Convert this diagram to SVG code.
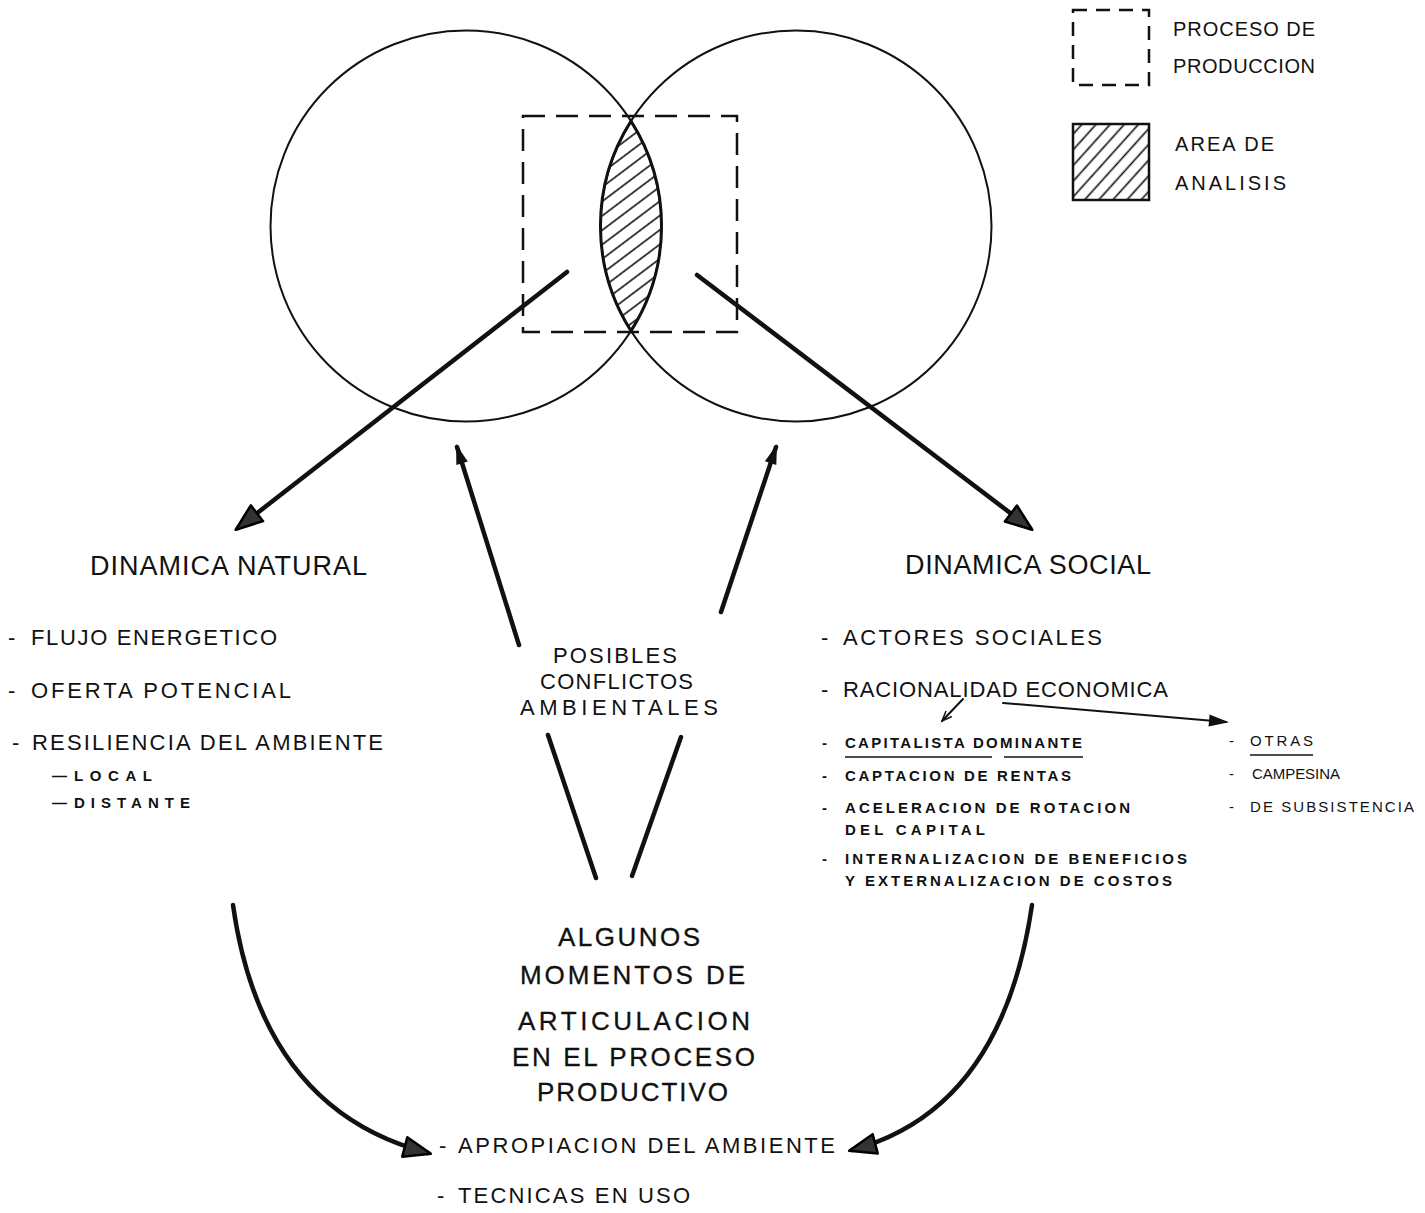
<svg xmlns="http://www.w3.org/2000/svg" width="1425" height="1213" viewBox="0 0 1425 1213">
<style>
.t{font-family:"Liberation Sans",Arial,sans-serif;fill:#111}
.m{font-size:22px}
.h{font-size:27px}
.b{font-size:26px;stroke:#111;stroke-width:0.3}
.s{font-size:15px;font-weight:bold}
.r{font-size:15px}
.c{fill:none;stroke:#111;stroke-width:2}
.dash{fill:none;stroke:#111;stroke-width:2.5;stroke-dasharray:22 11}
.arr{fill:none;stroke:#111;stroke-width:4.5;stroke-linecap:round}
.thin{fill:none;stroke:#111;stroke-width:2;stroke-linecap:round}
</style>
<defs>
<pattern id="hatch" patternUnits="userSpaceOnUse" width="20" height="11.5" patternTransform="rotate(-37)">
<line x1="0" y1="5.75" x2="20" y2="5.75" stroke="#111" stroke-width="1.6"/>
</pattern>
<pattern id="hatch2" patternUnits="userSpaceOnUse" width="20" height="10.5" patternTransform="rotate(-48)">
<line x1="0" y1="5.25" x2="20" y2="5.25" stroke="#111" stroke-width="1.6"/>
</pattern>
<marker id="big" markerUnits="userSpaceOnUse" markerWidth="32" markerHeight="26" refX="26" refY="12" orient="auto">
<path d="M2,2 L29,12 L2,22 z" fill="#333" stroke="#000" stroke-width="2.5" stroke-linejoin="round"/>
</marker>
<marker id="mid" markerUnits="userSpaceOnUse" markerWidth="24" markerHeight="16" refX="18" refY="7" orient="auto">
<path d="M1,1 L21,7 L1,13 z" fill="#111"/>
</marker>
<marker id="tiny" markerUnits="userSpaceOnUse" markerWidth="14" markerHeight="12" refX="11" refY="5" orient="auto">
<path d="M1,1 L11,5 L1,9" fill="none" stroke="#111" stroke-width="1.5"/>
</marker>
</defs>

<g id="circle-natural"><circle class="c" cx="466" cy="226" r="195.5"/></g>
<g id="circle-social"><circle class="c" cx="796" cy="226" r="195.5"/></g>
<g id="area-analisis">
<path d="M631,121.1 A195.5,195.5 0 0 0 631,330.9 A195.5,195.5 0 0 0 631,121.1 z" fill="url(#hatch)" stroke="#111" stroke-width="3"/>
</g>
<g id="proceso-produccion"><rect class="dash" x="523" y="116" width="214" height="216"/></g>

<g id="legend">
<rect x="1073" y="10" width="76" height="75" fill="none" stroke="#111" stroke-width="2.5" stroke-dasharray="14 9"/>
<text class="t" x="1173" y="36" font-size="20" textLength="142" lengthAdjust="spacing">PROCESO DE</text>
<text class="t" x="1173" y="73" font-size="20" textLength="142" lengthAdjust="spacing">PRODUCCION</text>
<rect x="1073" y="124" width="76" height="76" fill="url(#hatch2)" stroke="#111" stroke-width="2.5"/>
<text class="t" x="1175" y="151" font-size="20" textLength="99" lengthAdjust="spacing">AREA DE</text>
<text class="t" x="1175" y="190" font-size="20" textLength="111" lengthAdjust="spacing">ANALISIS</text>
</g>

<g id="connectors">
<line class="arr" x1="567" y1="272" x2="238" y2="528" marker-end="url(#big)"/>
<line class="arr" x1="697" y1="275" x2="1030" y2="528" marker-end="url(#big)"/>
<line class="arr" x1="519" y1="645" x2="457" y2="447" marker-end="url(#mid)"/>
<line class="arr" x1="721" y1="612" x2="776" y2="447" marker-end="url(#mid)"/>
<line class="arr" x1="548" y1="735" x2="596" y2="878"/>
<line class="arr" x1="681" y1="737" x2="632" y2="876"/>
<path class="arr" d="M233,905 Q262,1110 428,1153" marker-end="url(#big)"/>
<path class="arr" d="M1032,905 Q1002,1110 852,1150" marker-end="url(#big)"/>
<line class="thin" x1="963" y1="699" x2="942" y2="721" stroke-width="1.5" marker-end="url(#tiny)"/>
<line class="thin" x1="1003" y1="703" x2="1226" y2="722" stroke-width="2.5" marker-end="url(#mid)"/>
</g>

<g id="dinamica-natural">
<text class="t h" x="90" y="575" textLength="277" lengthAdjust="spacing">DINAMICA NATURAL</text>
<text class="t m" x="8" y="645">-</text>
<text class="t m" x="31" y="645" textLength="246" lengthAdjust="spacing">FLUJO ENERGETICO</text>
<text class="t m" x="8" y="698">-</text>
<text class="t m" x="31" y="698" textLength="260" lengthAdjust="spacing">OFERTA POTENCIAL</text>
<text class="t m" x="12" y="750">-</text>
<text class="t m" x="32" y="750" textLength="351" lengthAdjust="spacing">RESILIENCIA DEL AMBIENTE</text>
<text class="t s" x="52" y="781">—</text>
<text class="t s" x="74" y="781" textLength="78" lengthAdjust="spacing">LOCAL</text>
<text class="t s" x="52" y="808">—</text>
<text class="t s" x="74" y="808" textLength="116" lengthAdjust="spacing">DISTANTE</text>
</g>

<g id="dinamica-social">
<text class="t h" x="905" y="574" textLength="246" lengthAdjust="spacing">DINAMICA SOCIAL</text>
<text class="t m" x="821" y="645">-</text>
<text class="t m" x="843" y="645" textLength="259" lengthAdjust="spacing">ACTORES SOCIALES</text>
<text class="t m" x="821" y="697">-</text>
<text class="t m" x="843" y="697" textLength="325" lengthAdjust="spacing">RACIONALIDAD ECONOMICA</text>
<text class="t s" x="822" y="748">-</text>
<text class="t s" x="845" y="748" textLength="237" lengthAdjust="spacing">CAPITALISTA DOMINANTE</text>
<line x1="845" y1="757" x2="992" y2="757" stroke="#111" stroke-width="1.5"/>
<line x1="1004" y1="757" x2="1083" y2="757" stroke="#111" stroke-width="1.5"/>
<text class="t s" x="822" y="781">-</text>
<text class="t s" x="845" y="781" textLength="226" lengthAdjust="spacing">CAPTACION DE RENTAS</text>
<text class="t s" x="822" y="813">-</text>
<text class="t s" x="845" y="813" textLength="285" lengthAdjust="spacing">ACELERACION DE ROTACION</text>
<text class="t s" x="845" y="835" textLength="140" lengthAdjust="spacing">DEL CAPITAL</text>
<text class="t s" x="822" y="864">-</text>
<text class="t s" x="845" y="864" textLength="342" lengthAdjust="spacing">INTERNALIZACION DE BENEFICIOS</text>
<text class="t s" x="845" y="886" textLength="327" lengthAdjust="spacing">Y EXTERNALIZACION DE COSTOS</text>
<text class="t r" x="1229" y="746">-</text>
<text class="t r" x="1250" y="746" textLength="63" lengthAdjust="spacing">OTRAS</text>
<line x1="1250" y1="755" x2="1313" y2="755" stroke="#111" stroke-width="1.5"/>
<text class="t r" x="1229" y="779">-</text>
<text class="t r" x="1252" y="779" textLength="88" lengthAdjust="spacing">CAMPESINA</text>
<text class="t r" x="1229" y="812">-</text>
<text class="t r" x="1250" y="812" textLength="164" lengthAdjust="spacing">DE SUBSISTENCIA</text>
</g>

<g id="conflictos">
<text class="t m" x="553" y="663" textLength="124" lengthAdjust="spacing">POSIBLES</text>
<text class="t m" x="540" y="689" textLength="153" lengthAdjust="spacing">CONFLICTOS</text>
<text class="t m" x="520" y="715" textLength="198" lengthAdjust="spacing">AMBIENTALES</text>
</g>

<g id="articulacion">
<text class="t b" x="558" y="946" textLength="142" lengthAdjust="spacing">ALGUNOS</text>
<text class="t b" x="520" y="984" textLength="225" lengthAdjust="spacing">MOMENTOS DE</text>
<text class="t b" x="518" y="1030" textLength="232" lengthAdjust="spacing">ARTICULACION</text>
<text class="t b" x="512" y="1066" textLength="243" lengthAdjust="spacing">EN EL PROCESO</text>
<text class="t b" x="537" y="1101" textLength="191" lengthAdjust="spacing">PRODUCTIVO</text>
<text class="t m" x="439" y="1153">-</text>
<text class="t m" x="458" y="1153" textLength="377" lengthAdjust="spacing">APROPIACION DEL AMBIENTE</text>
<text class="t m" x="437" y="1203">-</text>
<text class="t m" x="458" y="1203" textLength="232" lengthAdjust="spacing">TECNICAS EN USO</text>
</g>
</svg>
